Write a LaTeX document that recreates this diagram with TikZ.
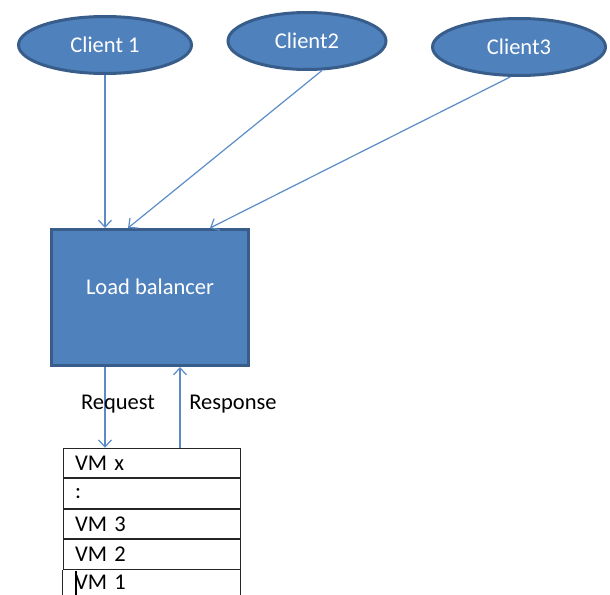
\documentclass[tikz,border=0pt]{standalone}
\usepackage{fontspec}
\setmainfont{Carlito}
\newfontfamily\vmfont{Carlito}[WordSpace=0.55]
\usetikzlibrary{arrows.meta,calc,positioning,shapes.geometric}
\definecolor{fillblue}{HTML}{4F81BD}
\definecolor{edgeblue}{HTML}{385D8A}
\definecolor{lineblue}{HTML}{5B8CC8}

\begin{document}
\begin{tikzpicture}[x=1pt,y=-1pt,
  client/.style={ellipse,fill=fillblue,draw=edgeblue,line width=3pt,text=white,
    minimum width=173pt,minimum height=57pt,font=\fontsize{22.5}{26}\selectfont},
  flow/.style={draw=lineblue,line width=1.2pt,-{Straight Barb[length=7pt,width=13pt]}},
  vmrow/.style={draw=black!85,line width=1pt,minimum width=177pt,minimum height=29.5pt,
    text width=153pt,align=left,inner sep=0pt,font=\vmfont\fontsize{22.5}{26}\selectfont},
  lbl/.style={font=\fontsize{22.5}{26}\selectfont}]
\useasboundingbox (0,0) rectangle (610,594);
\node[client] (c1) at (105,45) {Client 1};
\node[client,minimum width=158pt] (c2) at (307,41) {Client2};
\node[client] (c3) at (519,47) {Client3};
\node[rectangle,fill=fillblue,draw=edgeblue,line width=3pt,minimum width=197pt,
  minimum height=136pt] (lb) at (150,297.5) {};
\node[lbl,text=white] (lbtext) at ($(lb.center)+(0,-11)$) {Load balancer};
\draw[flow] (c1.south) -- (c1.south |- lb.north);
\draw[flow] (c2.297) -- ($(lb.north west)+(78,0)$);
\draw[flow] (c3.254) -- ($(lb.north west)+(160,0)$);
% VM stack
\node[vmrow] (vmx) at (151.5,463) {VM x};
\node[vmrow,below=0pt of vmx] (vmd) {:};
\node[vmrow,below=0pt of vmd] (vm3) {VM 3};
\node[vmrow,below=0pt of vm3] (vm2) {VM 2};
\node[vmrow,draw=none,minimum height=25pt,below=0pt of vm2] (vm1) {VM 1};
\draw[black!85,line width=1pt] (vm2.south west) -- ++(0,30);
\draw[black!85,line width=1pt] (vm2.south east) -- ++(0,30);
\draw[line width=2pt] ($(vm2.south west)+(13,1)$) -- ++(0,28);
\coordinate (resp) at (180,0);
\draw[flow] (c1.south |- lb.south) -- (c1.south |- vmx.north);
\draw[flow] (resp |- vmx.north) -- (resp |- lb.south);
\node[lbl] (req) at (118,404) {Request};
\node[lbl] (res) at (233,404) {Response};
\end{tikzpicture}
\end{document}
